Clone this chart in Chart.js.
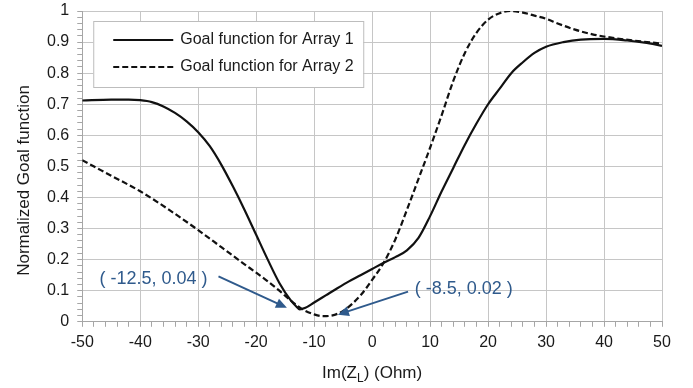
<!DOCTYPE html>
<html>
<head>
<meta charset="utf-8">
<script src="https://cdn.jsdelivr.net/npm/chart.js@4.4.1/dist/chart.umd.min.js"></script>
<style>
  html, body { margin: 0; padding: 0; background: #ffffff; }
  #wrap { width: 693px; height: 388px; position: relative; }
</style>
</head>
<body>
<div id="wrap"><canvas id="chart"></canvas></div>
<script>
// 横軸 Im(ZL) の値と各配列のゴール関数
const xArray1 = [-50, -45, -42, -40, -38, -36, -34, -32, -30, -28, -26, -24, -22, -20, -18, -16, -14, -13, -12.5, -11.5, -10, -8, -6, -4, -2, 0, 2, 4, 6, 8, 10, 12, 14, 16, 18, 20, 22, 24, 26, 28, 30, 33, 36, 40, 44, 47, 50];
const yArray1 = [0.712, 0.715, 0.715, 0.713, 0.707, 0.693, 0.672, 0.645, 0.61, 0.565, 0.505, 0.435, 0.36, 0.28, 0.2, 0.125, 0.068, 0.048, 0.04, 0.045, 0.062, 0.085, 0.108, 0.13, 0.15, 0.17, 0.19, 0.208, 0.23, 0.27, 0.34, 0.42, 0.495, 0.57, 0.638, 0.7, 0.75, 0.8, 0.835, 0.865, 0.885, 0.9, 0.908, 0.91, 0.905, 0.898, 0.888];

const xArray2 = [-50, -45, -40, -35, -30, -26, -22, -20, -18, -16, -14, -12, -10, -8.5, -7, -5, -2, 0, 2, 4, 6, 8, 10, 12, 14, 16, 18, 20, 22, 24, 26, 28, 30, 32, 35, 38, 41, 45, 50];
const yArray2 = [0.52, 0.47, 0.42, 0.36, 0.295, 0.24, 0.185, 0.158, 0.13, 0.1, 0.068, 0.04, 0.024, 0.018, 0.02, 0.035, 0.085, 0.135, 0.19, 0.265, 0.36, 0.46, 0.56, 0.665, 0.775, 0.865, 0.93, 0.972, 0.993, 1.0, 0.995, 0.985, 0.975, 0.96, 0.94, 0.925, 0.915, 0.905, 0.895];

const seriesLabels = ['Goal function for Array 1', 'Goal function for Array 2'];

// 目盛りラベル
const xTickLabels = ['-50', '-40', '-30', '-20', '-10', '0', '10', '20', '30', '40', '50'];
const yTickLabels = ['0', '0.1', '0.2', '0.3', '0.4', '0.5', '0.6', '0.7', '0.8', '0.9', '1'];

// 注記：最小点のラベルと矢印（データ座標）
const noteTexts = ['( -12.5, 0.04 )', '( -8.5, 0.02 )'];
const noteTextPos = [[-37.7, 0.136], [15.8, 0.104]];
const noteArrowFrom = [[-26.5, 0.146], [6.2, 0.097]];
const noteArrowTo = [[-14.7, 0.045], [-5.9, 0.023]];

const FONT = '"Liberation Sans", Arial, Helvetica, sans-serif';
const NOTE_COLOR = '#2f5a8c';
const GRID_COLOR = '#c6c6c6';

const toPoints = (xs, ys) => xs.map((x, i) => ({ x: x, y: ys[i] }));

// 矢印を描く
function drawArrow(ctx, x1, y1, x2, y2) {
    const ang = Math.atan2(y2 - y1, x2 - x1);
    const head = 11, half = 5;
    ctx.beginPath();
    ctx.moveTo(x1, y1);
    ctx.lineTo(x2 - Math.cos(ang) * head * 0.8, y2 - Math.sin(ang) * head * 0.8);
    ctx.stroke();
    ctx.beginPath();
    ctx.moveTo(x2, y2);
    ctx.lineTo(x2 - Math.cos(ang) * head + Math.sin(ang) * half, y2 - Math.sin(ang) * head - Math.cos(ang) * half);
    ctx.lineTo(x2 - Math.cos(ang) * head - Math.sin(ang) * half, y2 - Math.sin(ang) * head + Math.cos(ang) * half);
    ctx.closePath();
    ctx.fill();
}

// 凡例・軸タイトル・注記を描画するプラグイン
const overlayPlugin = {
    id: 'overlay',
    afterDraw(chart) {
        const ctx = chart.ctx;
        const area = chart.chartArea;
        const sx = chart.scales.x, sy = chart.scales.y;
        ctx.save();

        // 凡例ボックス
        const lx = area.left + 11, ly = area.top + 10, lw = 270, lh = 66;
        ctx.fillStyle = '#ffffff';
        ctx.fillRect(lx, ly, lw, lh);
        ctx.strokeStyle = '#bdbdbd';
        ctx.lineWidth = 1;
        ctx.strokeRect(lx + 0.5, ly + 0.5, lw, lh);
        chart.data.datasets.forEach((ds, i) => {
            const yy = ly + 19 + i * 27;
            ctx.strokeStyle = ds.borderColor;
            ctx.lineWidth = 2.2;
            ctx.setLineDash(ds.borderDash || []);
            ctx.beginPath();
            ctx.moveTo(lx + 20, yy);
            ctx.lineTo(lx + 80, yy);
            ctx.stroke();
            ctx.setLineDash([]);
            ctx.fillStyle = '#1a1a1a';
            ctx.font = '16px ' + FONT;
            ctx.textAlign = 'left';
            ctx.textBaseline = 'middle';
            ctx.fillText(ds.label, lx + 87, yy);
        });

        // Y軸タイトル
        ctx.fillStyle = '#1a1a1a';
        ctx.font = '17px ' + FONT;
        ctx.save();
        ctx.translate(24, (area.top + area.bottom) / 2 + 14);
        ctx.rotate(-Math.PI / 2);
        ctx.textAlign = 'center';
        ctx.textBaseline = 'middle';
        ctx.fillText('Normalized Goal function', 0, 0);
        ctx.restore();

        // X軸タイトル（Z の下付き L）
        const p1 = 'Im(Z', sub = 'L', p2 = ') (Ohm)';
        ctx.font = '17px ' + FONT;
        const w1 = ctx.measureText(p1).width, w2 = ctx.measureText(p2).width;
        ctx.font = '12px ' + FONT;
        const ws = ctx.measureText(sub).width;
        let tx = (area.left + area.right) / 2 - (w1 + ws + w2) / 2;
        const ty = 378;
        ctx.textAlign = 'left';
        ctx.textBaseline = 'alphabetic';
        ctx.font = '17px ' + FONT;
        ctx.fillText(p1, tx, ty);
        ctx.font = '12px ' + FONT;
        ctx.fillText(sub, tx + w1, ty + 4);
        ctx.font = '17px ' + FONT;
        ctx.fillText(p2, tx + w1 + ws, ty);

        // 注記
        ctx.fillStyle = NOTE_COLOR;
        ctx.strokeStyle = NOTE_COLOR;
        ctx.lineWidth = 2;
        ctx.font = '18px ' + FONT;
        ctx.textAlign = 'center';
        ctx.textBaseline = 'middle';
        noteTexts.forEach((t, i) => {
            ctx.fillText(t, sx.getPixelForValue(noteTextPos[i][0]), sy.getPixelForValue(noteTextPos[i][1]));
            drawArrow(ctx,
                sx.getPixelForValue(noteArrowFrom[i][0]), sy.getPixelForValue(noteArrowFrom[i][1]),
                sx.getPixelForValue(noteArrowTo[i][0]), sy.getPixelForValue(noteArrowTo[i][1]));
        });
        ctx.restore();
    }
};

const isMajorX = v => Math.round(v) % 10 === 0;
const isMajorY = v => Math.round(v * 50) % 5 === 0;

new Chart(document.getElementById('chart'), {
    type: 'line',
    data: {
        datasets: [
            {
                label: seriesLabels[0],
                data: toPoints(xArray1, yArray1),
                borderColor: '#111111',
                borderWidth: 2.2,
                pointRadius: 0,
                cubicInterpolationMode: 'monotone',
                fill: false
            },
            {
                label: seriesLabels[1],
                data: toPoints(xArray2, yArray2),
                borderColor: '#111111',
                borderWidth: 2.2,
                borderDash: [6, 3],
                pointRadius: 0,
                cubicInterpolationMode: 'monotone',
                fill: false
            }
        ]
    },
    options: {
        responsive: true,
        maintainAspectRatio: false,
        animation: false,
        layout: { padding: { left: 39, right: 31, top: 11, bottom: 30 } },
        plugins: { legend: { display: false }, tooltip: { enabled: false } },
        scales: {
            x: {
                type: 'linear',
                min: -50,
                max: 50,
                border: { color: '#a6a6a6' },
                grid: {
                    color: c => isMajorX(c.tick.value) ? GRID_COLOR : 'rgba(0,0,0,0)',
                    tickColor: '#a6a6a6',
                    tickLength: 5
                },
                ticks: {
                    stepSize: 2,
                    maxTicksLimit: 100,
                    autoSkip: false,
                    maxRotation: 0,
                    padding: 6,
                    color: '#1a1a1a',
                    font: { family: FONT, size: 16 },
                    callback: v => isMajorX(v) ? xTickLabels[Math.round((v + 50) / 10)] : ''
                }
            },
            y: {
                min: 0,
                max: 1,
                border: { color: '#a6a6a6' },
                grid: {
                    color: c => isMajorY(c.tick.value) ? GRID_COLOR : 'rgba(0,0,0,0)',
                    tickColor: '#a6a6a6',
                    tickLength: 5
                },
                afterFit: scale => { scale.paddingTop = 0; },
                ticks: {
                    stepSize: 0.02,
                    maxTicksLimit: 100,
                    autoSkip: false,
                    padding: 8,
                    color: '#1a1a1a',
                    font: { family: FONT, size: 16 },
                    callback: v => isMajorY(v) ? yTickLabels[Math.round(v * 10)] : ''
                }
            }
        }
    },
    plugins: [overlayPlugin]
});
</script>
</body>
</html>
